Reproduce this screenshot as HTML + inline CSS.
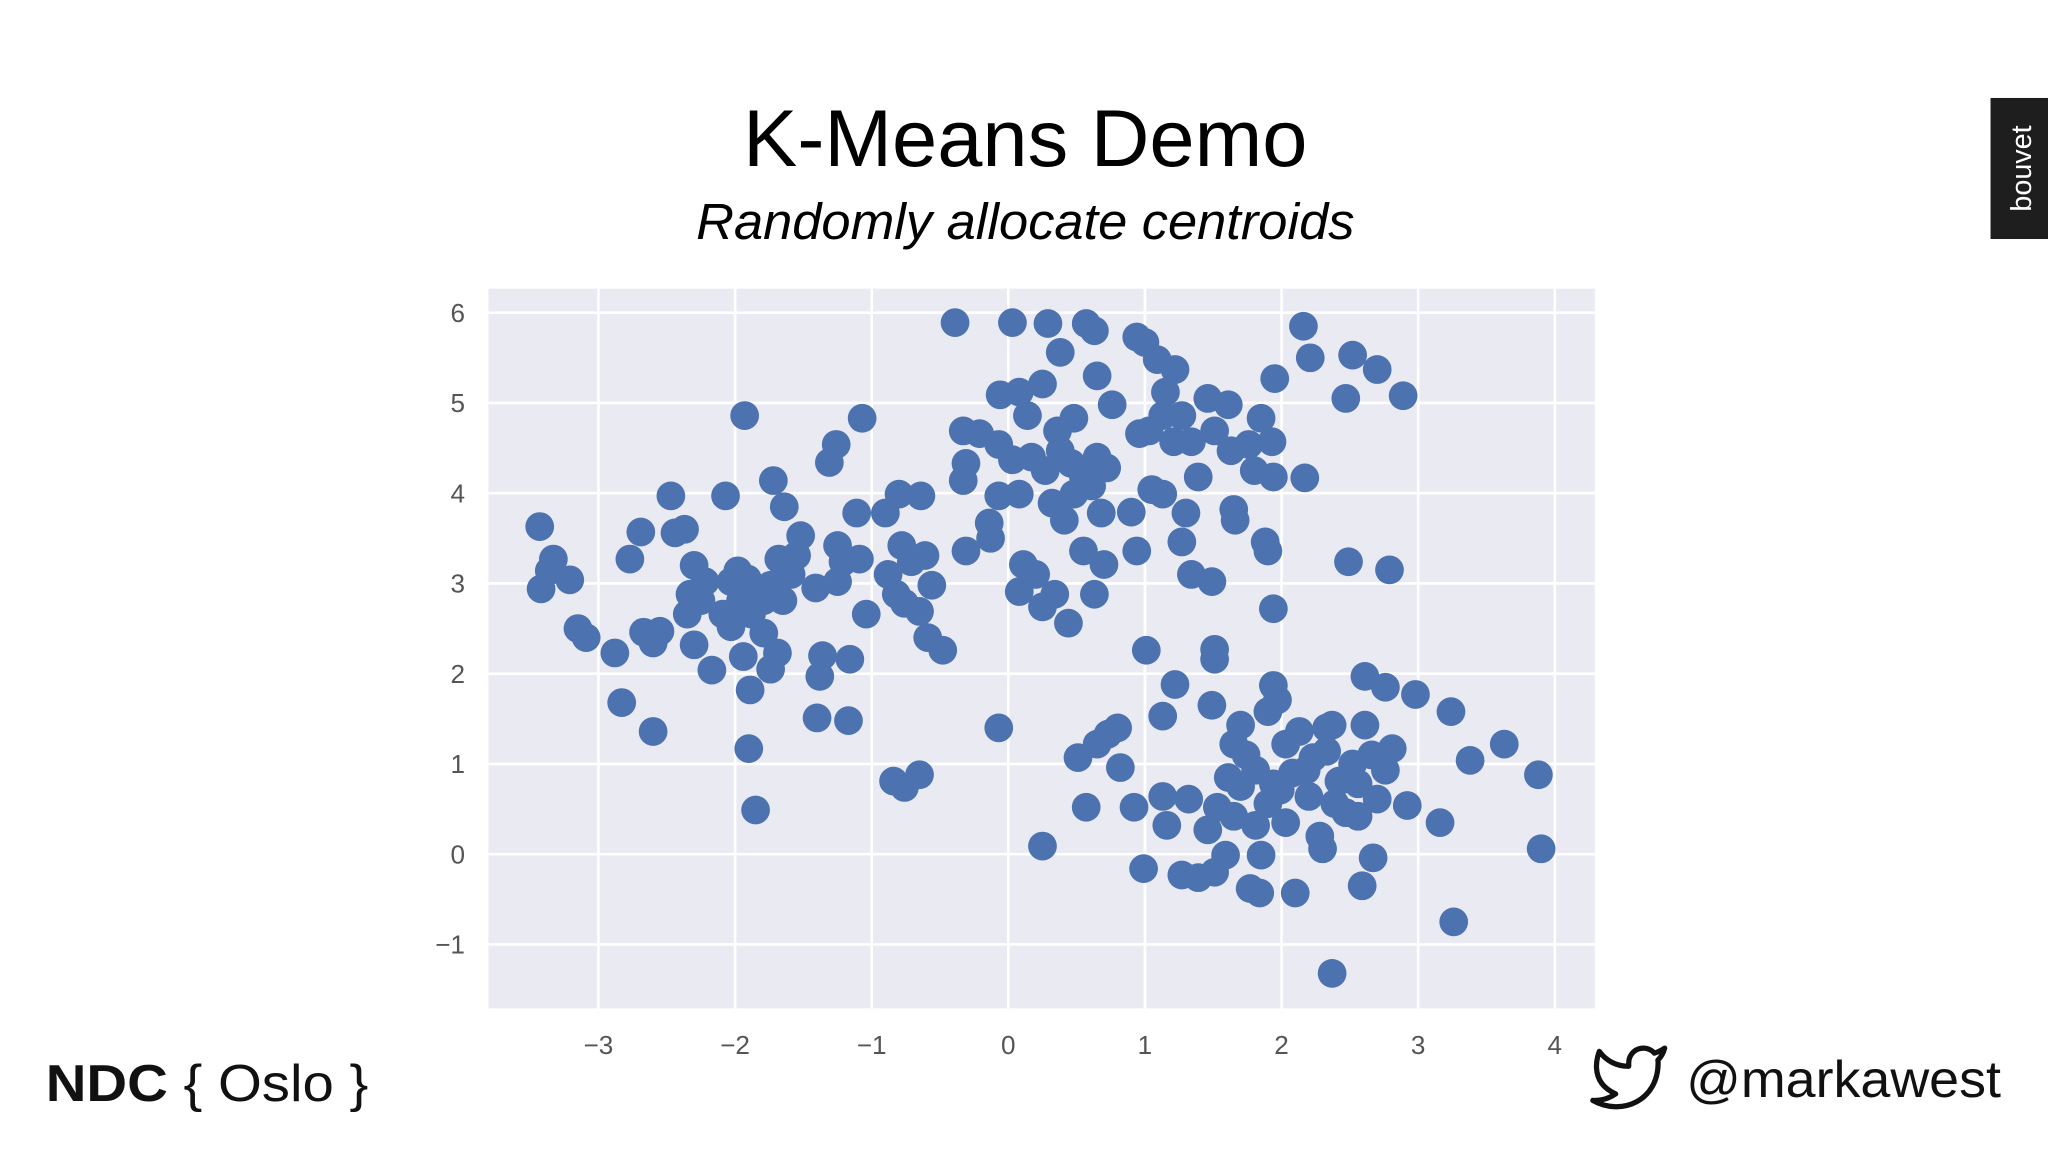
<!DOCTYPE html>
<html>
<head>
<meta charset="utf-8">
<style>
html,body{margin:0;padding:0;background:#fff;}
svg{display:block;}
</style>
</head>
<body>
<svg id="slide" width="2048" height="1152" viewBox="0 0 1568 882" xmlns="http://www.w3.org/2000/svg" font-family="Liberation Sans, sans-serif">
  <rect width="1568" height="882" fill="#ffffff"/>
  <text x="785" y="127" text-anchor="middle" font-size="62" textLength="432" lengthAdjust="spacingAndGlyphs" fill="#000">K-Means Demo</text>
  <text x="785" y="183" text-anchor="middle" font-size="39" font-style="italic" textLength="504" lengthAdjust="spacingAndGlyphs" fill="#000">Randomly allocate centroids</text>
  <g>
    <rect x="1524" y="75" width="44" height="108" fill="#1e1e1e"/>
    <text x="1555" y="129" transform="rotate(-90 1555 129)" text-anchor="middle" font-size="22" fill="#fff">bouvet</text>
  </g>
  <g id="chart">
    <rect x="374" y="221" width="847" height="551" fill="#eaeaf2"/>
    <g id="grid"></g>
    <g id="xticks" font-size="20" fill="#555"></g>
    <g id="yticks" font-size="20" fill="#555"></g>
    <g id="points"></g>
  </g>
  <text x="35" y="843" font-size="40" textLength="247" lengthAdjust="spacingAndGlyphs" fill="#111"><tspan font-weight="bold">NDC</tspan> { Oslo }</text>
  <g>
    <g transform="translate(1217,795) scale(2.5)">
      <path d="M23 3a10.9 10.9 0 0 1-3.14 1.530 4.48 4.48 0 0 0-7.86 3v1A10.66 10.66 0 0 1 3 4s-4 9 5 13a11.64 11.64 0 0 1-7 2c9 5 20 0 20-11.5a4.5 4.5 0 0 0-.08-.83A7.72 7.72 0 0 0 23 3z" fill="none" stroke="#111" stroke-width="1.6" stroke-linejoin="round"/>
    </g>
    <text x="1291" y="840" font-size="40" textLength="241" lengthAdjust="spacingAndGlyphs" fill="#111">@markawest</text>
  </g>
</svg>
<script>
const xTicks = [-3,-2,-1,0,1,2,3,4];
const yTicks = [-1,0,1,2,3,4,5,6];
const xs = [-3.43,-3.33,-3.21,-3.42,-3.36,-3.15,-3.09,-2.88,-2.83,-2.60,-2.77,-2.69,-2.47,-2.44,-2.37,-2.67,-2.60,-2.55,-2.30,-2.33,-2.35,-2.25,-2.22,-2.30,-2.17,-2.07,-1.93,-2.03,-1.98,-1.91,-2.09,-2.03,-1.96,-1.88,-1.94,-1.89,-1.90,-1.85,-1.79,-1.74,-1.69,-1.79,-1.74,-1.68,-1.72,-1.64,-1.65,-1.59,-1.55,-1.52,-1.41,-1.38,-1.36,-1.40,-1.31,-1.26,-1.25,-1.21,-1.25,-1.16,-1.17,-1.07,-1.11,-1.09,-1.04,-0.90,-0.88,-0.82,-0.80,-0.78,-0.76,-0.71,-0.64,-0.61,-0.65,-0.56,-0.59,-0.48,-0.84,-0.76,-0.65,
-0.39,0.03,0.29,0.38,0.57,0.63,0.94,1.00,1.09,1.22,1.15,2.16,2.21,2.52,2.70,2.47,2.89,1.95,-0.06,0.08,0.25,0.14,0.36,0.48,0.65,0.76,-0.33,-0.21,-0.31,-0.33,-0.07,0.03,0.17,0.27,0.38,0.46,0.55,0.65,0.72,0.61,0.48,0.32,0.41,0.68,0.90,0.96,1.03,1.13,1.21,1.27,1.34,1.46,1.61,1.51,1.63,1.76,1.85,1.93,1.80,1.94,2.17,1.39,1.05,1.13,1.30,1.27,1.34,1.49,1.65,1.66,1.88,1.90,1.94,2.49,2.79,-0.31,-0.14,-0.13,-0.07,0.08,0.11,0.20,0.08,0.25,0.34,0.44,0.55,0.70,0.63,0.94,
1.01,1.22,1.13,1.51,1.49,1.51,1.94,1.97,1.90,2.61,2.76,2.98,3.24,3.38,3.63,3.88,3.90,3.26,3.16,2.92,2.81,2.37,-0.07,0.25,0.57,0.51,0.65,0.73,0.80,0.82,0.92,0.99,1.13,1.16,1.32,1.27,1.39,1.51,1.59,1.46,1.53,1.61,1.65,1.70,1.74,1.81,1.77,1.84,1.85,1.81,1.90,2.03,1.99,2.08,2.03,2.13,2.10,2.20,2.28,2.30,2.23,2.33,2.37,2.42,2.52,2.56,2.61,2.66,2.47,2.56,2.70,2.67,2.59,2.39,2.33,2.18,1.94,1.70,1.65,2.76];
const ys = [3.63,3.27,3.04,2.94,3.14,2.50,2.40,2.23,1.68,1.36,3.27,3.57,3.97,3.56,3.60,2.46,2.34,2.47,3.20,2.88,2.66,2.81,3.02,2.32,2.04,3.97,4.86,3.02,3.14,3.05,2.66,2.52,2.81,2.66,2.19,1.82,1.17,0.49,2.45,2.05,2.23,2.81,2.98,3.27,4.14,3.85,2.81,3.10,3.31,3.53,2.95,1.97,2.20,1.51,4.34,4.54,3.42,3.24,3.02,2.16,1.48,4.83,3.78,3.27,2.66,3.78,3.10,2.88,3.99,3.42,2.78,3.24,3.97,3.31,2.69,2.98,2.40,2.26,0.81,0.74,0.88,
5.89,5.89,5.88,5.56,5.88,5.80,5.73,5.67,5.48,5.37,5.12,5.85,5.50,5.53,5.37,5.05,5.08,5.27,5.09,5.12,5.21,4.86,4.69,4.83,5.30,4.98,4.69,4.66,4.33,4.14,4.54,4.37,4.40,4.25,4.47,4.33,4.18,4.40,4.28,4.08,3.99,3.89,3.70,3.78,3.79,4.66,4.69,4.86,4.57,4.86,4.57,5.05,4.98,4.69,4.47,4.54,4.83,4.57,4.25,4.18,4.17,4.18,4.04,3.99,3.78,3.46,3.10,3.02,3.82,3.70,3.46,3.36,2.72,3.24,3.15,3.36,3.67,3.50,3.97,3.99,3.21,3.10,2.91,2.74,2.88,2.56,3.36,3.21,2.88,3.36,
2.26,1.88,1.53,2.27,1.65,2.16,1.87,1.71,1.58,1.97,1.85,1.77,1.58,1.04,1.22,0.88,0.06,-0.75,0.35,0.54,1.17,-1.32,1.40,0.09,0.52,1.07,1.22,1.33,1.40,0.96,0.52,-0.16,0.64,0.32,0.61,-0.23,-0.26,-0.20,-0.01,0.27,0.52,0.85,1.22,1.43,1.10,0.93,-0.38,-0.43,-0.01,0.32,0.56,0.35,0.71,0.90,1.22,1.36,-0.43,0.64,0.20,0.06,1.07,1.14,1.43,0.81,1.00,0.78,1.43,1.10,0.46,0.42,0.61,-0.04,-0.35,0.56,1.40,0.93,0.78,0.75,0.42,0.93];

const NS = "http://www.w3.org/2000/svg";
const X0 = 772, XU = 104.6, Y0 = 654, YU = 69.1;
function sx(v){ return X0 + v * XU; }
function sy(v){ return Y0 - v * YU; }
const grid = document.getElementById('grid');
const xt = document.getElementById('xticks');
const yt = document.getElementById('yticks');
const pts = document.getElementById('points');
function lab(v){ return v < 0 ? '\u2212' + Math.abs(v) : String(v); }
xTicks.forEach(v => {
  const l = document.createElementNS(NS, 'line');
  l.setAttribute('x1', sx(v)); l.setAttribute('x2', sx(v));
  l.setAttribute('y1', 221); l.setAttribute('y2', 772);
  l.setAttribute('stroke', '#fff'); l.setAttribute('stroke-width', '2');
  
  
  grid.appendChild(l);
  const t = document.createElementNS(NS, 'text');
  t.setAttribute('x', sx(v)); t.setAttribute('y', 807);
  t.setAttribute('text-anchor', 'middle');
  t.textContent = lab(v);
  
  
  xt.appendChild(t);
});
yTicks.forEach(v => {
  const l = document.createElementNS(NS, 'line');
  l.setAttribute('x1', 374); l.setAttribute('x2', 1221);
  l.setAttribute('y1', sy(v)); l.setAttribute('y2', sy(v));
  l.setAttribute('stroke', '#fff'); l.setAttribute('stroke-width', '2');
  
  
  grid.appendChild(l);
  const t = document.createElementNS(NS, 'text');
  t.setAttribute('x', 356); t.setAttribute('y', sy(v) + 7);
  t.setAttribute('text-anchor', 'end');
  t.textContent = lab(v);
  
  
  yt.appendChild(t);
});
xs.forEach((x, i) => {
  const c = document.createElementNS(NS, 'circle');
  c.setAttribute('cx', sx(x)); c.setAttribute('cy', sy(ys[i]));
  c.setAttribute('r', 11);
  c.setAttribute('fill', '#4c72b0');
  
  
  pts.appendChild(c);
});
</script>
</body>
</html>
